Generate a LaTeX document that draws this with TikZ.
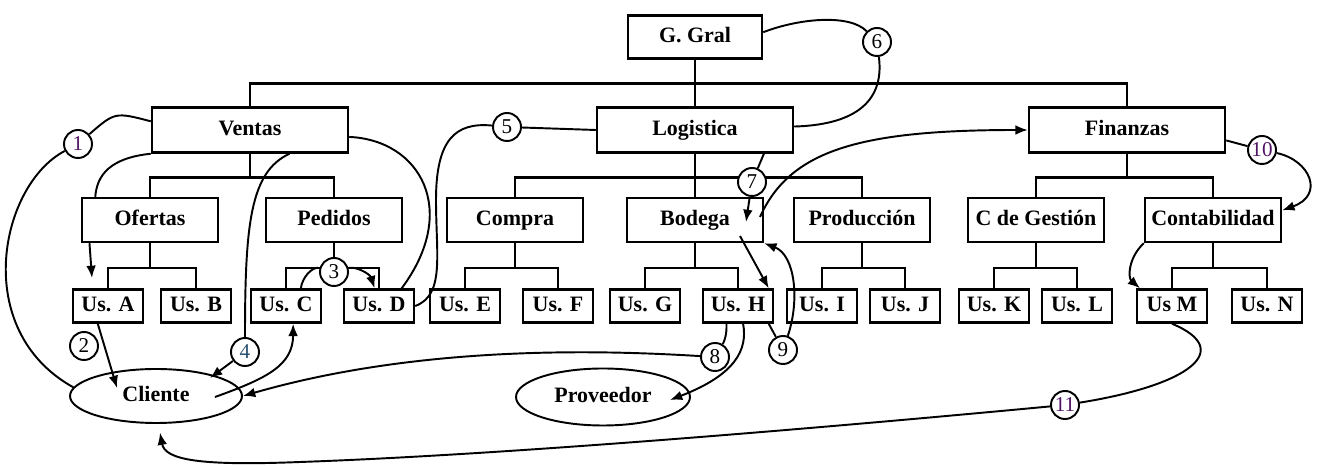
\documentclass[tikz,border=0pt]{standalone}
\usepackage{fontspec}
\setmainfont{Liberation Serif}
\usepackage{tikz}
\usetikzlibrary{arrows.meta,shapes}
\newcommand{\boxw}{1.4pt}
\newcommand{\linkw}{1.1pt}
\definecolor{numpurple}{RGB}{80,20,100}
\definecolor{numblue}{RGB}{40,80,110}

\begin{document}
\begin{tikzpicture}[x=0.2mm, y=-0.2mm]
            \tikzset{caja/.style = {draw, line width=\boxw, fill=white, inner sep=1pt, text height=9pt, text depth=2.5pt, font=\fontsize{12.5}{15}\selectfont\bfseries}}
            \tikzset{gerencia/.style = {caja, minimum width=2.68cm, minimum height=0.86cm}}
            \tikzset{depto/.style = {caja, minimum width=3.92cm, minimum height=0.9cm}}
            \tikzset{seccion/.style = {caja, minimum width=2.72cm, minimum height=0.88cm}}
            \tikzset{usuario/.style = {caja, minimum width=1.4cm, minimum height=0.66cm}}
            \tikzset{externo/.style = {caja, ellipse, inner sep=0pt, line width=\linkw}}
            \tikzset{paso/.style = {draw, circle, fill=white, line width=\linkw, inner sep=0pt, minimum size=0.56cm, font=\fontsize{12}{14}\selectfont}}
            \tikzset{rama/.style = {line width=\boxw}}
            \tikzset{flujo/.style = {line width=\linkw}}
            \tikzset{flecha/.style = {flujo, -{Latex[length=7pt, width=5.5pt]}}}
            \useasboundingbox (0,0) rectangle (1322,466);

            \node[gerencia] (ggral) at (695,37) {G. Gral};

            \node[depto] (ventas) at (250,130) {Ventas};
            \node[depto] (logistica) at (695,130) {Logistica};
            \node[depto] (finanzas) at (1127,130) {Finanzas};

            \node[seccion] (ofertas) at (150,220) {Ofertas};
            \node[seccion] (pedidos) at (334,220) {Pedidos};
            \node[seccion] (compra) at (515,220) {Compra};
            \node[seccion] (bodega) at (695,220) {Bodega};
            \node[seccion] (produccion) at (862,220) {Producción};
            \node[seccion] (cgestion) at (1036,220) {C de Gestión};
            \node[seccion] (contab) at (1213,220) {Contabilidad};

            \node[usuario] (usa) at (108,306) {Us. A};
            \node[usuario] (usb) at (196,306) {Us. B};
            \node[usuario] (usc) at (286,306) {Us. C};
            \node[usuario] (usd) at (379,306) {Us. D};
            \node[usuario] (use) at (465,306) {Us. E};
            \node[usuario] (usf) at (558,306) {Us. F};
            \node[usuario] (usg) at (645,306) {Us. G};
            \node[usuario] (ush) at (738,306) {Us. H};
            \node[usuario] (usi) at (822,306) {Us. I};
            \node[usuario] (usj) at (905,306) {Us. J};
            \node[usuario] (usk) at (994,306) {Us. K};
            \node[usuario] (usl) at (1077,306) {Us. L};
            \node[usuario] (usm) at (1172,306) {Us M};
            \node[usuario] (usn) at (1267,306) {Us. N};

            \node[externo, minimum width=3.44cm, minimum height=1.08cm] (cliente) at (156,396) {Cliente};
            \node[externo, minimum width=3.48cm, minimum height=1.14cm] (proveedor) at (603,397) {Proveedor};

            \draw[rama] (ggral.south) -- ++(0,24) -| (ventas.north);
            \draw[rama] (ggral.south) -- ++(0,24) -| (finanzas.north);
            \draw[rama] (ggral) -- (logistica);

            \draw[rama] (ventas.south) -- ++(0,24) -| (ofertas.north);
            \draw[rama] (ventas.south) -- ++(0,24) -| (pedidos.north);
            \draw[rama] (logistica.south) -- ++(0,24) -| (compra.north);
            \draw[rama] (logistica.south) -- ++(0,24) -| (produccion.north);
            \draw[rama] (logistica) -- (bodega);
            \draw[rama] (finanzas.south) -- ++(0,24) -| (cgestion.north);
            \draw[rama] (finanzas.south) -- ++(0,24) -| (contab.north);

            \draw[rama] (ofertas.south) -- ++(0,25) -| (usa.north);
            \draw[rama] (ofertas.south) -- ++(0,25) -| (usb.north);
            \draw[rama] (pedidos.south) -- ++(0,25) -| (usc.north);
            \draw[rama] (pedidos.south) -- ++(0,25) -| (usd.north);
            \draw[rama] (compra.south) -- ++(0,25) -| (use.north);
            \draw[rama] (compra.south) -- ++(0,25) -| (usf.north);
            \draw[rama] (bodega.south) -- ++(0,25) -| (usg.north);
            \draw[rama] (bodega.south) -- ++(0,25) -| (ush.north);
            \draw[rama] (produccion.south) -- ++(0,25) -| (usi.north);
            \draw[rama] (produccion.south) -- ++(0,25) -| (usj.north);
            \draw[rama] (cgestion.south) -- ++(0,25) -| (usk.north);
            \draw[rama] (cgestion.south) -- ++(0,25) -| (usl.north);
            \draw[rama] (contab.south) -- ++(0,25) -| (usm.north);
            \draw[rama] (contab.south) -- ++(0,25) -| (usn.north);

            \node[paso, text=numpurple] (n1) at (78,144) {1};
            \node[paso] (n2) at (84,346) {2};
            \node[paso] (n3) at (334,272) {3};
            \node[paso, text=numblue] (n4) at (245,352) {4};
            \node[paso] (n5) at (507,127) {5};
            \node[paso] (n6) at (877,42) {6};
            \node[paso] (n7) at (752,182) {7};
            \node[paso] (n8) at (715,357) {8};
            \node[paso] (n9) at (783,350) {9};
            \node[paso, text=numpurple] (n10) at (1262,150) {10};
            \node[paso, text=numpurple] (n11) at (1065,405) {11};

            \coordinate (ofa) at (92,278);
            \coordinate (cl2) at (117,388);
            \coordinate (cl4) at (210,378);
            \coordinate (clc) at (215,397);
            \coordinate (bo7) at (746,222);
            \coordinate (boh) at (740,236);
            \coordinate (bof) at (760,217);
            \coordinate (pv8) at (670,400);

            \draw[flujo] (ventas.175) .. controls (115,112) .. (n1);
            \draw[flujo] (n1) .. controls (0,185) and (-30,330) .. (cliente.174);
            \draw[flujo] (ventas.south west) .. controls (110,158) and (97,175) .. (ofertas.157);
            \draw[flecha] (ofertas.201) -- (ofa);
            \draw[flecha] (usa.240) -- (cl2);

            \draw[flujo] (ventas.-31) .. controls (250,172) and (245,225) .. (n4);
            \draw[flecha] (n4) -- (cl4);
            \draw[flecha] (clc) .. controls (268,378) and (293,365) .. (usc.-68);
            \draw[flujo] (usc.50) .. controls (302,278) and (312,266) .. (n3);
            \draw[flecha] (n3) .. controls (356,266) and (370,274) .. (usd.104);
            \draw[flujo] (ventas.-4) .. controls (420,140) and (460,210) .. (usd.38);

            \draw[flujo] (logistica.west) -- (n5);
            \draw[flujo] (n5) .. controls (455,122) and (436,140) .. (436,200) .. controls (436,255) and (445,295) .. (usd.east);
            \draw[flujo] (ggral.4) .. controls (800,18) and (850,14) .. (n6);
            \draw[flujo] (n6) .. controls (885,105) and (850,125) .. (logistica.2);

            \draw[flujo] (logistica.-19) -- (n7);
            \draw[flecha] (n7) -- (bo7);
            \draw[flecha] (boh) -- (ush.30);
            \draw[flecha] (bof) .. controls (790,150) and (860,130) .. (finanzas.west);
            \draw[flujo] (ush.-30) -- (n9);
            \draw[flecha] (n9) .. controls (800,300) and (795,255) .. (bodega.south east);

            \draw[flujo] (ush.-123) .. controls (727,335) and (724,342) .. (n8);
            \draw[flecha] (n8) .. controls (600,350) and (420,345) .. (cliente.east);
            \draw[flecha] (ush.-74) .. controls (748,350) and (735,375) .. (pv8);

            \draw[flujo] (finanzas.-6) -- (n10);
            \draw[flecha] (n10) .. controls (1310,160) and (1325,195) .. (contab.8);
            \draw[flecha] (contab.south west) .. controls (1128,258) and (1128,278) .. (usm.151);
            \draw[flujo] (usm.south) .. controls (1235,350) and (1190,385) .. (n11);
            \draw[flecha, shorten >=5pt] (n11) .. controls (800,430) and (500,455) .. (300,462) .. controls (200,466) and (165,460) .. (cliente.-85);
            %\draw (0,0) rectangle (1322,466);
        \end{tikzpicture}
\end{document}
